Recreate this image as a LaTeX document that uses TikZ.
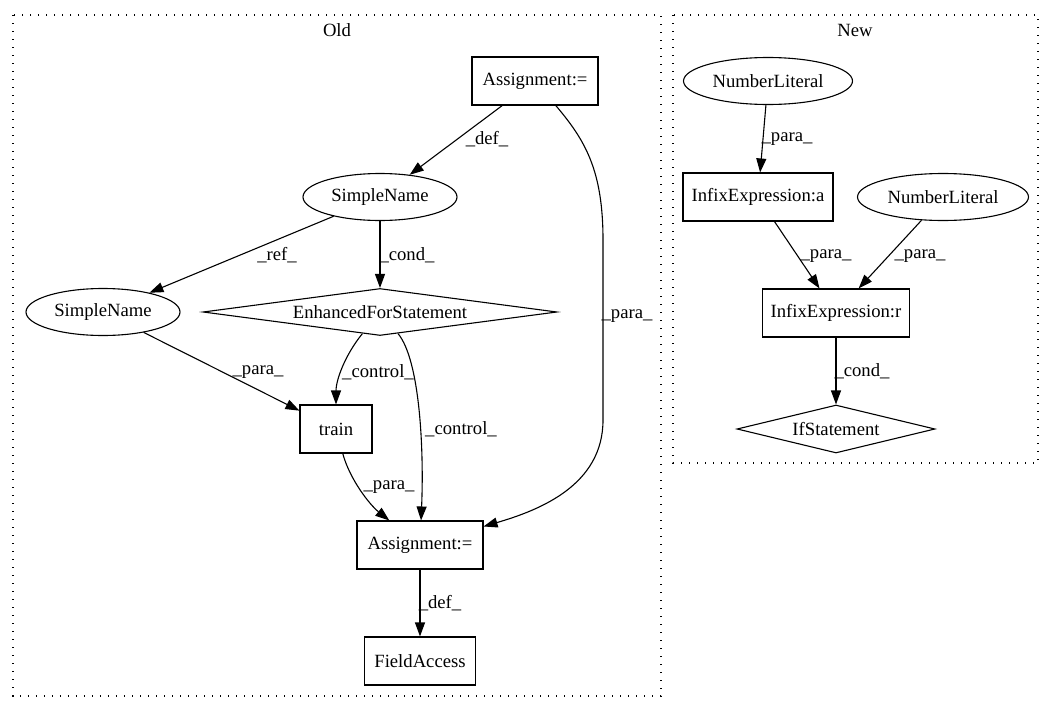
\documentclass[tikz,border=0pt]{standalone}
\usepackage{fontspec}
\setmainfont{Liberation Serif}
\usepackage{tikz}
\usetikzlibrary{shapes.geometric}
\usetikzlibrary{arrows.meta}
\tikzset{
    box/.style={draw, rectangle, line width=1.1pt, inner sep=0pt, minimum height=48},
    oval/.style={draw, ellipse, line width=1.1pt, inner sep=0pt, minimum height=47},
    rhomb/.style={draw, diamond, line width=1.1pt, inner sep=0pt},
    edge/.style={line width=1.1pt, -{Triangle[length=14pt,width=10pt]}},
    lbl/.style={inner sep=0pt},
    cluster/.style={line width=1.33pt, dash pattern=on 1.33pt off 6.67pt}
}

\begin{document}
\begin{tikzpicture}[x=1pt, y=-1pt, font=\fontsize{18.67}{22}\selectfont]
            \useasboundingbox (0,0) rectangle (1055,712);
            \draw[cluster] (13,15) rectangle (661,696);
            \draw[cluster] (673,15) rectangle (1038,463);
            \node (oldTitle) at (337,30) {Old};
            \node (newTitle) at (855,30) {New};

            \node[box, minimum width=126] (assignOld) at (535,81) {Assignment:=};
            \node[oval, minimum width=154] (nameDef) at (380,197) {SimpleName};
            \node[oval, minimum width=154] (nameRef) at (103,312) {SimpleName};
            \node[rhomb, minimum width=354, minimum height=47, shape aspect=7.5] (forStmt) at (380,312) {EnhancedForStatement};
            \node[box, minimum width=72] (train) at (336,429) {train};
            \node[box, minimum width=126] (assignNew) at (420,545) {Assignment:=};
            \node[box, minimum width=111] (fieldAcc) at (420,661) {FieldAccess};

            \node[oval, minimum width=169] (numA) at (768,81) {NumberLiteral};
            \node[box, minimum width=150] (infixA) at (758,197) {InfixExpression:a};
            \node[oval, minimum width=171] (numR) at (943,197) {NumberLiteral};
            \node[box, minimum width=147] (infixR) at (836,313) {InfixExpression:r};
            \node[rhomb, minimum width=198, minimum height=48, shape aspect=4.1] (ifStmt) at (836,429) {IfStatement};

            \draw[edge] (assignOld) -- (nameDef) node[lbl] at (487,139) {\_def\_};
            \draw[edge] (assignOld) .. controls (585,140) and (603,170) .. (603,240) -- (603,420)
                 .. controls (603,485) and (540,510) .. (assignNew) node[lbl] at (627,316) {\_para\_};
            \draw[edge] (nameDef) -- (nameRef) node[lbl] at (277,255) {\_ref\_};
            \draw[edge] (nameDef) -- (forStmt) node[lbl] at (407,255) {\_cond\_};
            \draw[edge] (nameRef) -- (train) node[lbl] at (258,372) {\_para\_};
            \draw[edge] (forStmt) .. controls (345,355) and (336,380) .. (train) node[lbl] at (378,372) {\_control\_};
            \draw[edge] (forStmt) .. controls (420,360) and (424,450) .. (assignNew) node[lbl] at (461,429) {\_control\_};
            \draw[edge] (train) .. controls (350,480) and (370,505) .. (assignNew) node[lbl] at (389,487) {\_para\_};
            \draw[edge] (assignNew) -- (fieldAcc) node[lbl] at (440,603) {\_def\_};

            \draw[edge] (numA) -- (infixA) node[lbl] at (787,139) {\_para\_};
            \draw[edge] (infixA) -- (infixR) node[lbl] at (826,256) {\_para\_};
            \draw[edge] (numR) -- (infixR) node[lbl] at (920,256) {\_para\_};
            \draw[edge] (infixR) -- (ifStmt) node[lbl] at (862,371) {\_cond\_};
        \end{tikzpicture}
\end{document}
